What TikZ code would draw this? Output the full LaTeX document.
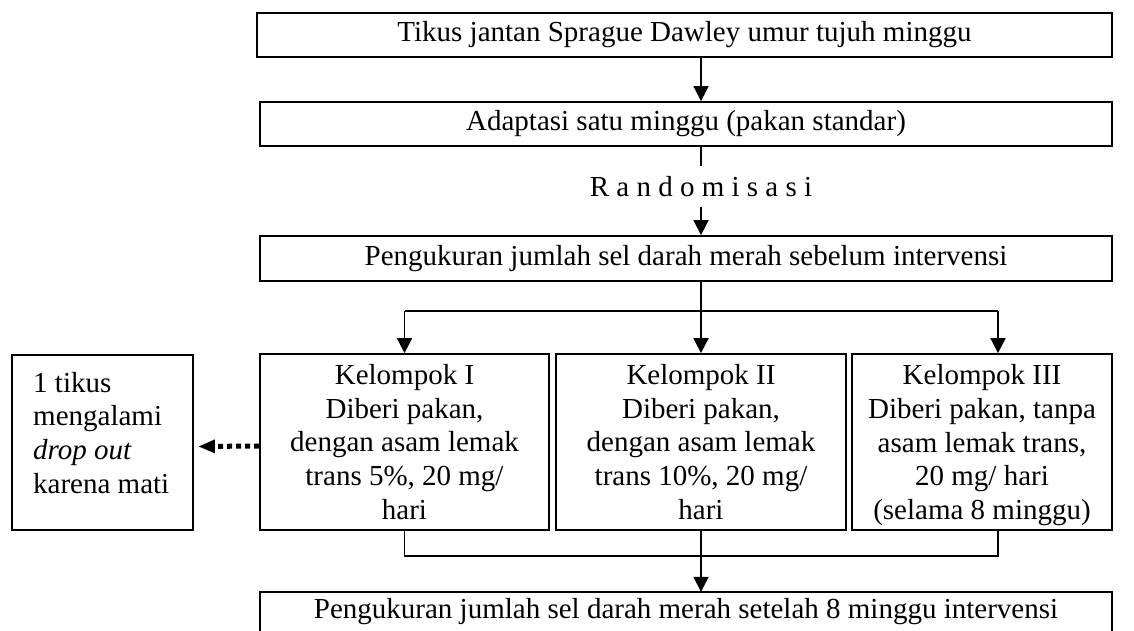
\documentclass[tikz,border=0pt]{standalone}
\usepackage{fontspec}
\setmainfont{Liberation Serif}
\usetikzlibrary{arrows.meta}
\begin{document}
\begin{tikzpicture}[x=1pt,y=-1pt,
  box/.style={draw, line width=1.8pt, inner sep=0pt, align=center,
    font=\fontsize{29}{33.6}\selectfont},
  plain/.style={inner sep=0pt, align=center, font=\fontsize{29}{33.6}\selectfont},
  conn/.style={line width=1.8pt},
  arr/.style={line width=1.8pt, -{Triangle[length=15pt,width=15pt]}},
  dotarr/.style={line width=5pt, dash pattern=on 5pt off 4pt,
    -{Triangle[length=16pt,width=14pt,line width=0pt]}}]
\useasboundingbox (0,0) rectangle (1134,631);
\node[box, minimum width=855, minimum height=44] (n1) at (684.5,35)
  {Tikus jantan Sprague Dawley umur tujuh minggu};
\node[box, minimum width=852, minimum height=44] (n2) at (686,124)
  {Adaptasi satu minggu (pakan standar)};
\node[plain, minimum height=41] (rand) at (701,186.5)
  {R a n d o m i s a s i};
\node[box, minimum width=852, minimum height=45] (n3) at (686,258.5)
  {Pengukuran jumlah sel darah merah sebelum intervensi};
\node[box, minimum width=289, minimum height=176] (k1) at (404.5,442)
  {Kelompok I\\Diberi pakan,\\dengan asam lemak\\trans 5\%, 20 mg/\\hari};
\node[box, minimum width=290, minimum height=176] (k2) at (701,442)
  {Kelompok II\\Diberi pakan,\\dengan asam lemak\\trans 10\%, 20 mg/\\hari};
\node[box, minimum width=260, minimum height=176] (k3) at (982,442)
  {Kelompok III\\Diberi pakan, tanpa\\asam lemak trans,\\20 mg/ hari\\\smash{(selama 8 minggu)}};
\node[box, minimum width=181, minimum height=175] (lb) at (102.5,442.5) {};
\node[plain, anchor=north west, align=left] (lbt) at (33,372)
  {1 tikus\\mengalami\\\textit{drop out}\\karena mati};
\node[plain, minimum width=852, minimum height=39] (b5) at (686,611.5)
  {Pengukuran jumlah sel darah merah setelah 8 minggu intervensi};
\draw[conn] (b5.south west) -- (b5.north west) -- (b5.north east) -- (b5.south east);
% connectors
\draw[arr] (n1.south -| rand) -- (n2.north -| rand);
\draw[conn] (n2.south -| rand) -- (rand.north);
\draw[arr] (rand.south) -- (n3.north -| rand);
\coordinate (bl) at (404.5,311);
\coordinate (brr) at (998,311);
\draw[conn] (bl) -- (brr);
\draw[arr] (n3.south -| k2) -- (k2.north);
\draw[arr] (bl) -- (k1.north);
\draw[arr] (brr) -- (k3.north -| brr);
\coordinate (ml) at (404.5,556);
\coordinate (mr) at (998,556);
\draw[conn] (k1.south) -- (ml) -- (mr) -- (k3.south -| mr);
\draw[arr] (k2.south) -- (b5.north -| k2.south);
\draw[dotarr] ([yshift=-4pt]k1.west) -- ([xshift=5pt,yshift=-4pt]lb.east);
\end{tikzpicture}
\end{document}
